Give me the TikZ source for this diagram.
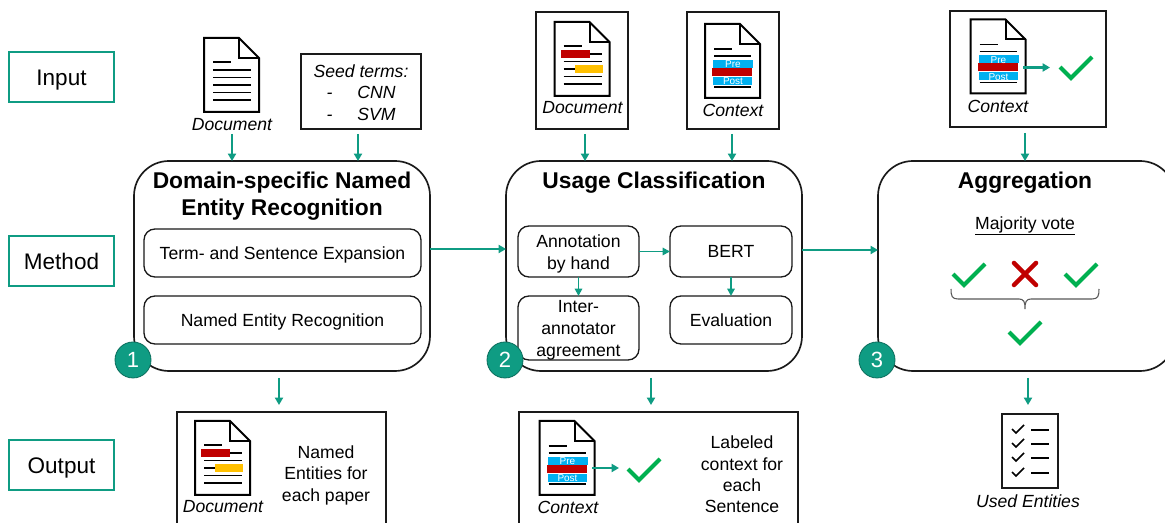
\documentclass[tikz,border=0pt]{standalone}
\usepackage{fontspec}
\setmainfont{Liberation Sans}
\usetikzlibrary{arrows.meta}
\newlength\pxu
\setlength\pxu{0.75pt}
\definecolor{teal1}{HTML}{0F9C83}
\definecolor{inkk}{HTML}{1A1A1A}
\definecolor{chk}{HTML}{00B050}
\definecolor{redd}{HTML}{C00000}
\definecolor{yel}{HTML}{FFC000}
\definecolor{blu}{HTML}{00B0F0}
\tikzset{
  flow/.style={draw=teal1,line width=1.7pt,-{Triangle[length=5.5pt,width=6pt]}},
  thinflow/.style={draw=teal1,line width=1.4pt,-{Triangle[length=5.5pt,width=5.5pt]}},
  rowlabel/.style={draw=teal1,line width=0.8pt,inner sep=0pt,outer sep=0pt,text height=13.5pt,text depth=0pt,font=\fontsize{16.9}{20}\selectfont},
  mainbox/.style={draw=inkk,line width=1.25pt,rounded corners=35\pxu,inner sep=0pt,outer sep=0pt,minimum width=296\pxu,minimum height=210\pxu},
  subbox/.style={draw=inkk,line width=1pt,rounded corners=11\pxu,inner sep=0pt,outer sep=0pt,align=center,font=\fontsize{13.2}{16.5}\selectfont},
  onesub/.style={subbox,text height=9.5pt,text depth=0pt},
  plainbox/.style={draw=inkk,line width=1.5pt,inner sep=0pt,outer sep=0pt},
  title/.style={font=\fontsize{17.1}{20.25}\selectfont\bfseries,align=center,inner sep=0pt},
  body/.style={font=\fontsize{13.2}{16.1}\selectfont,align=center,inner sep=0pt},
  ital/.style={font=\fontsize{13.2}{16.1}\selectfont\itshape,align=center,inner sep=0pt},
  mini/.style={font=\fontsize{7.5}{8}\selectfont,text=white,inner sep=0pt},
  badge/.style={circle,fill=teal1,draw=teal1!70!black,line width=0.6pt,minimum size=36\pxu,inner sep=0pt,text=white,font=\fontsize{16.5}{20}\selectfont},
  docbase/.pic={
    \draw[line width=1.5pt,draw=black,fill=white,line join=miter] (0,0) -- (35,0) -- (55,20) -- (55,74) -- (0,74) -- cycle;
    \draw[line width=1.5pt,draw=black] (35,0) -- (35,20) -- (55,20);
  },
  docplain/.pic={
    \pic {docbase};
    \draw[line width=1.2pt] (9,24) -- (27,24);
    \foreach \yy in {32,39.5,47,54.5,62} {\draw[line width=1.2pt] (9,\yy) -- (47,\yy);}
  },
  dochigh/.pic={
    \pic {docbase};
    \draw[line width=1.2pt] (9,24) -- (27,24);
    \foreach \yy in {32,39.5,47,54.5,62} {\draw[line width=1.2pt] (9,\yy) -- (47,\yy);}
    \fill[redd] (6,28.5) rectangle (35,36);
    \fill[yel] (20,43.5) rectangle (48,51);
  },
  doccontext/.pic={
    \pic {docbase};
    \draw[line width=1.2pt] (9,25) -- (27,25);
    \draw[line width=1.2pt] (9,32) -- (46,32);
    \draw[line width=1.4pt] (9,63) -- (46,63);
    \fill[blu] (8,36) rectangle (48,44);
    \fill[blu] (8,53) rectangle (47,61);
    \fill[redd] (7,44) rectangle (47,52);
    \node[mini] at (28,40.5) {Pre};
    \node[mini] at (28,57.5) {Post};
  },
  checkok/.pic={
    \draw[draw=chk,line width=3.1pt] (-11,-11) -- (0,0) -- (21,-21);
  },
  checksmall/.pic={
    \draw[line width=1.2pt,draw=black] (0,-3) -- (4,1) -- (12,-7);
  },
}
\begin{document}
\begin{tikzpicture}[x=0.75pt,y=-0.75pt]
\path[use as bounding box,clip] (0,0) rectangle (1165,523);
\fill[white] (0,0) rectangle (1165,523);

% row labels
\node[rowlabel,minimum width=105\pxu,minimum height=50\pxu] (rowin) at (61.5,77) {Input};
\node[rowlabel,minimum width=105\pxu,minimum height=50\pxu] (rowme) at (61.5,261) {Method};
\node[rowlabel,minimum width=105\pxu,minimum height=50\pxu] (rowou) at (61.5,465) {Output};

% main boxes
\node[mainbox] (box1) at (282,266) {};
\node[mainbox] (box2) at (654,266) {};
\node[mainbox,minimum width=297\pxu] (box3) at (1026.5,266) {};
\node[title] (t1) at (282,196) {Domain-specific Named\\Entity Recognition};
\node[title] (t2) at (654,183) {Usage Classification};
\node[title] (t3) at (1025,183) {Aggregation};

% sub boxes
\node[onesub,minimum width=277\pxu,minimum height=48\pxu] (s1) at (282.5,253) {Term- and Sentence Expansion};
\node[onesub,minimum width=277\pxu,minimum height=48\pxu] (s2) at (282.5,320) {Named Entity Recognition};
\node[subbox,minimum width=121\pxu,minimum height=51\pxu] (ann) at (578.5,251.5) {\rule{0pt}{13.5pt}Annotation\\by hand};
\node[onesub,minimum width=122\pxu,minimum height=51\pxu] (bert) at (731,251.5) {BERT};
\node[subbox,minimum width=121\pxu,minimum height=64\pxu] (inter) at (578.5,328) {};
\node[inner sep=0pt,align=center,font=\fontsize{13.2}{16.5}\selectfont] (intertext) at (578.5,330) {Inter-\\annotator\\agreement};
\node[onesub,minimum width=122\pxu,minimum height=48\pxu] (eval) at (731,320) {Evaluation};

% input 1
\pic at (204,38) {docplain};
\node[ital] (ld1) at (232,125) {Document};
\node[plainbox,minimum width=120\pxu,minimum height=75\pxu,align=center,font=\fontsize{13.2}{16.1}\selectfont\itshape] (seed) at (361,91.5) {\rule{0pt}{11.2pt}Seed terms:\\-\hspace{18.75pt}CNN\\-\hspace{18.75pt}SVM};
% input 2
\node[plainbox,minimum width=92\pxu,minimum height=117\pxu] (in2) at (582,70.5) {};
\pic at (554.5,22) {dochigh};
\node[ital] (ld2) at (582.5,108) {Document};
\node[plainbox,minimum width=92\pxu,minimum height=117\pxu] (in3) at (733,70.5) {};
\pic at (705,24) {doccontext};
\node[ital] (ld3) at (733,110) {Context};
% input 3
\node[plainbox,minimum width=156\pxu,minimum height=116\pxu] (in4) at (1028,69) {};
\pic at (970.5,19.5) {doccontext};
\node[ital] (ld4) at (998,106) {Context};
\coordinate (c4a) at (1023,67.5);
\coordinate (c4b) at (1050,67.5);
\draw[flow] (c4a) -- (c4b);
\pic at (1071,78) {checkok};

% aggregation
\node[body] (maj) at (1025,226) {\underline{Majority vote}};
\pic at (964,285) {checkok};
\pic at (1076,285) {checkok};
\pic at (1020,343) {checkok};
\draw[draw=redd,line width=3.4pt,line cap=round] (1014,263) -- (1036,285) (1036,263) -- (1014,285);
\draw[draw=black!65,line width=0.8pt] (951,289) .. controls (951,296) and (952,299) .. (958,299) -- (1019,299) .. controls (1024,299) and (1025,302) .. (1025,309) .. controls (1025,302) and (1026,299) .. (1031,299) -- (1092,299) .. controls (1098,299) and (1099,296) .. (1099,289);

% badges
\node[badge] (b1) at (133,360) {1};
\node[badge] (b2) at (505,360) {2};
\node[badge] (b3) at (877,360) {3};

% output 1
\node[plainbox,minimum width=209\pxu,minimum height=130\pxu] (ou1) at (281.5,477) {};
\pic at (195,421) {dochigh};
\node[ital] (ld5) at (223,507) {Document};
\node[body] (tx1) at (326,475) {Named\\Entities for\\each paper};
% output 2
\node[plainbox,minimum width=279\pxu,minimum height=130\pxu] (ou2) at (658.5,477) {};
\pic at (539.5,421) {doccontext};
\node[ital] (ld6) at (568,507) {Context};
\coordinate (c6a) at (592,468);
\coordinate (c6b) at (619,468);
\draw[flow] (c6a) -- (c6b);
\pic at (639,480) {checkok};
\node[body] (tx2) at (742,474.5) {Labeled\\context for\\each\\Sentence};
% output 3
\node[plainbox,minimum width=56\pxu,minimum height=74\pxu,fill=white] (lst) at (1030,451) {};
\foreach \yy in {430,444,458,473} {
  \pic at (1012,\yy+2) {checksmall};
  \draw[line width=1.2pt] (1031,\yy) -- (1049,\yy);
}
\node[ital] (ld7) at (1028,501) {Used Entities};

% connectors
\coordinate (a1) at (232,134);
\coordinate (a2) at (358,134);
\coordinate (a3) at (585,134);
\coordinate (a4) at (732,134);
\coordinate (a5) at (1025,133);
\draw[flow] (a1) -- (a1 |- box1.north);
\draw[flow] (a2) -- (a2 |- box1.north);
\draw[flow] (a3) -- (a3 |- box2.north);
\draw[flow] (a4) -- (a4 |- box2.north);
\draw[flow] (a5) -- (a5 |- box3.north);
\coordinate (m1) at (468,249);
\coordinate (m2) at (840,250);
\draw[flow] (box1.east |- m1) -- (box2.west |- m1);
\draw[flow] (box2.east |- m2) -- (box3.west |- m2);
\draw[thinflow] (ann.east) -- (bert.west);
\draw[thinflow] (ann.south) -- (inter.north);
\draw[thinflow] (bert.south) -- (eval.north);
\coordinate (d1) at (279,378);
\coordinate (d2) at (651,378);
\coordinate (d3) at (1028,378);
\coordinate (e1) at (279,405);
\coordinate (e2) at (651,405);
\coordinate (e3) at (1028,405);
\draw[flow] (d1) -- (e1);
\draw[flow] (d2) -- (e2);
\draw[flow] (d3) -- (e3);
\end{tikzpicture}
\end{document}
